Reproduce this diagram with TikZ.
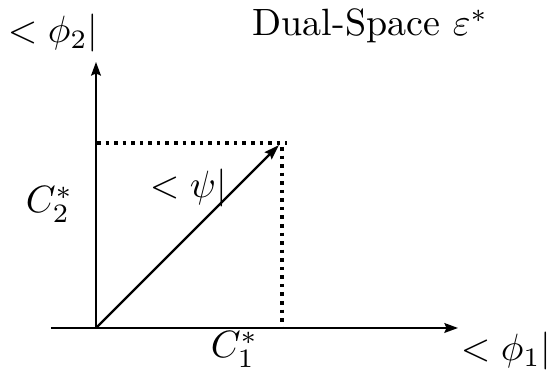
\documentclass[tikz,border=0pt]{standalone}
\usetikzlibrary{arrows.meta}
\begin{document}
\begin{tikzpicture}[x=0.263pt,y=-0.263pt,
  axis/.style={line width=0.5pt,-{Stealth[length=3.6pt,width=2.6pt,inset=0.6pt]}},
  vec/.style={line width=0.6pt,-{Stealth[length=4pt,width=2.6pt,inset=0.6pt]}},
  proj/.style={line width=0.95pt,dash pattern=on 0.95pt off 1.3pt},
  lbl/.style={anchor=base west,inner sep=0pt}]
\useasboundingbox (0,0) rectangle (548,378);
\coordinate (O) at (96,328);
\coordinate (xs) at (51,328);
\coordinate (xe) at (458,328);
\coordinate (ye) at (96,62);
\coordinate (P) at (279,145);
\coordinate (H0) at (97,143);
\coordinate (H1) at (287,143);
\coordinate (V0) at (282,147);
\coordinate (V1) at (282,328);
\draw[line width=0.5pt] (xs) -- (O);
\draw[axis] (O) -- (xe);
\draw[axis] (O) -- (ye);
\draw[proj] (H0) -- (H1);
\draw[proj] (V0) -- (V1);
\draw[vec] (O) -- (P);
\node[lbl] (phi2) at (7,43) {$<\phi_2|$};
\node[lbl] (title) at (252,36) {Dual-Space $\varepsilon^*$};
\node[lbl] (c2) at (25,213) {$C_2^*$};
\node[lbl] (psi) at (149,198) {$<\psi|$};
\node[lbl] (c1) at (210,358) {$C_1^*$};
\node[lbl] (phi1) at (460,361) {$<\phi_1|$};
\end{tikzpicture}
\end{document}
